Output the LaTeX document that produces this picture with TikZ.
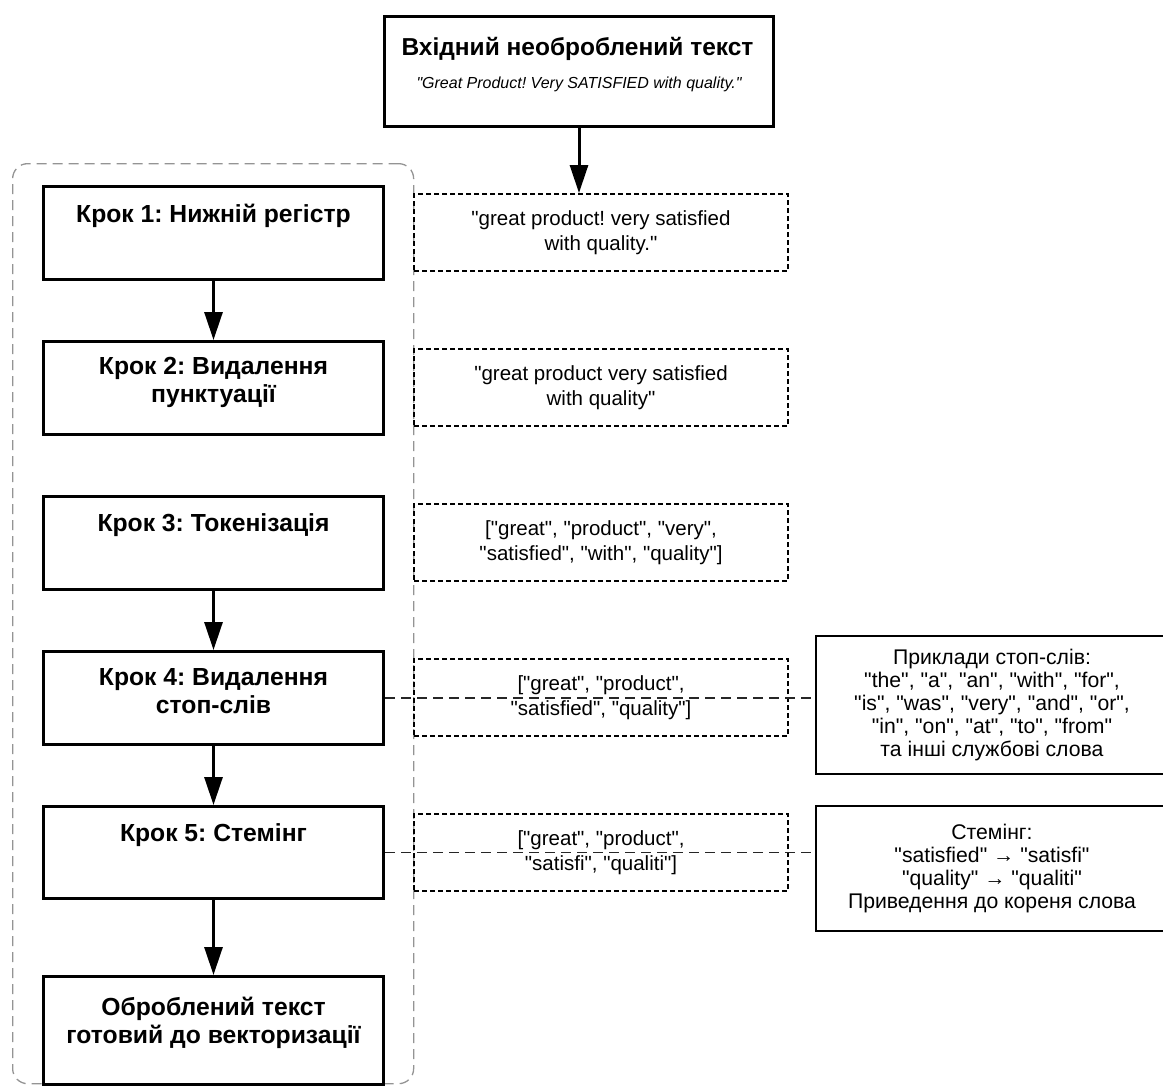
\documentclass[tikz,border=0pt]{standalone}
\usepackage{fontspec}
\setmainfont{Liberation Sans}[Ligatures=TeXOff]
\usetikzlibrary{arrows.meta}
\frenchspacing

\tikzset{
  stepbox/.style={draw, line width=3pt, minimum width=340pt, minimum height=93pt,
    inner sep=0pt, anchor=north west},
  steptext/.style={font=\fontsize{24.7}{28}\selectfont\bfseries, align=center,
    anchor=north, inner sep=0pt},
  resbox/.style={draw, line width=2pt, dash pattern=on 5pt off 3pt,
    minimum width=374pt, minimum height=77pt, inner sep=0pt, anchor=north west,
    align=center, font=\fontsize{20.5}{25}\selectfont},
  notebox/.style={draw, line width=2pt, minimum width=352pt, inner sep=0pt,
    anchor=north west, align=center, font=\fontsize{21.2}{23}\selectfont},
  flow/.style={line width=3pt, -{Triangle[length=28pt,width=18pt]}},
  linkline/.style={draw=black!85, line width=1.3pt, dash pattern=on 10pt off 6pt},
  groupline/.style={draw=black!42, line width=1.3pt, dash pattern=on 10pt off 6pt,
    rounded corners=15pt}
}

\begin{document}
\begin{tikzpicture}[x=1pt, y=-1pt]
\useasboundingbox (0,0) rectangle (1163,1088);
\clip (0,0) rectangle (1163,1088);

% pipeline group frame
\node[groupline, minimum width=401pt, minimum height=920pt, inner sep=0pt,
  anchor=north west] (grp) at (12,163) {};

% input text
\node[draw, line width=3pt, minimum width=389pt, minimum height=110pt,
  inner sep=0pt, anchor=north west] (inp) at (383,15) {};
\node[font=\fontsize{24.5}{28}\selectfont\bfseries, anchor=base, inner sep=0pt]
  (inptitle) at (577.5,55.5) {Вхідний необроблений текст};
\node[font=\fontsize{16}{18}\selectfont\itshape, anchor=base, inner sep=0pt]
  (inpsample) at (579,88) {"Great Product! Very SATISFIED with quality."};

% processing steps
\node[stepbox] (s1) at (42,185) {};
\node[stepbox] (s2) at (42,340) {};
\node[stepbox] (s3) at (42,495) {};
\node[stepbox] (s4) at (42,650) {};
\node[stepbox, minimum height=92pt] (s5) at (42,805) {};
\node[stepbox, minimum height=108pt] (fin) at (42,975) {};

\node[steptext] (t1) at ([yshift=-19pt]s1.north) {Крок 1: Нижній регістр};
\node[steptext] (t2) at ([yshift=-17pt]s2.north) {Крок 2: Видалення\\пунктуації};
\node[steptext] (t3) at ([yshift=-18pt]s3.north) {Крок 3: Токенізація};
\node[steptext] (t4) at ([yshift=-18pt]s4.north) {Крок 4: Видалення\\стоп-слів};
\node[steptext] (t5) at ([yshift=-18pt]s5.north) {Крок 5: Стемінг};
\node[steptext] (tf) at ([yshift=-22pt]fin.north) {Оброблений текст\\готовий до векторизації};

% intermediate results
\node[resbox] (r1) at (413,193) {"great product! very satisfied\\with quality."};
\node[resbox] (r2) at (413,348) {"great product very satisfied\\with quality"};
\node[resbox] (r3) at (413,503) {["great", "product", "very",\\"satisfied", "with", "quality"]};
\node[resbox] (r4) at (413,658) {["great", "product",\\"satisfied", "quality"]};
\node[resbox] (r5) at (413,813) {["great", "product",\\"satisfi", "qualiti"]};

% side notes
\node[notebox, minimum height=138pt] (stop) at (815,635)
  {Приклади стоп-слів:\\"the", "a", "an", "with", "for",\\"is", "was", "very", "and", "or",\\"in", "on", "at", "to", "from"\\та інші службові слова};
\node[notebox, minimum height=125pt] (stem) at (815,805)
  {Стемінг:\\"satisfied" → "satisfi"\\"quality" → "qualiti"\\Приведення до кореня слова};

% links to side notes
\draw[linkline] (s4.east) -- (s4.east -| stop.west);
\draw[linkline] (s5.east) -- (s5.east -| stem.west);

% flow arrows
\draw[flow] (inp.south) -- (inp.south |- r1.north);
\draw[flow] (s1.south) -- (s2.north);
\draw[flow] (s3.south) -- (s4.north);
\draw[flow] (s4.south) -- (s5.north);
\draw[flow] (s5.south) -- (fin.north);
\end{tikzpicture}
\end{document}
